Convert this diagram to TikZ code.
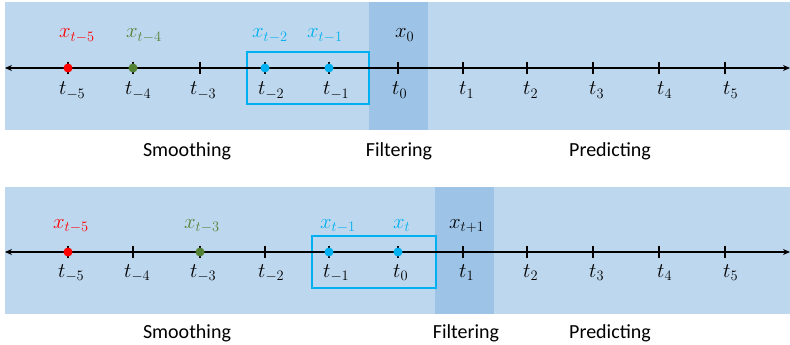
\documentclass[tikz,border=0pt]{standalone}
\usepackage{fontspec}
\setmainfont{Carlito}
\usetikzlibrary{arrows.meta}
\definecolor{panel}{HTML}{BDD7EE}
\definecolor{strip}{HTML}{9DC3E6}
\definecolor{xred}{HTML}{FF0000}
\definecolor{xgreen}{HTML}{548235}
\definecolor{xcyan}{HTML}{00B0F0}
\begin{document}
\begin{tikzpicture}[x=1pt,y=-1pt,
  axisln/.style={line width=1.6pt,{Stealth[length=7pt,width=6pt]}-{Stealth[length=7pt,width=6pt]}},
  tickln/.style={line width=1.4pt},
  dotn/.style={circle,inner sep=0pt,minimum size=9pt},
  lab/.style={anchor=base west,inner sep=0pt,font=\fontsize{21}{25}\selectfont},
  word/.style={anchor=base,inner sep=0pt,font=\fontsize{20}{24}\selectfont},
  winbox/.style={draw=xcyan,line width=1.1pt}]
\useasboundingbox (0,0) rectangle (790,345);
% ---------- top panel ----------
\fill[panel] (5,2) rectangle (790,130);
\fill[strip] (369,2) rectangle (428,130);
\draw[winbox] (247,52) rectangle (369,104);
\coordinate (aL) at (5,68);
\coordinate (aR) at (790,68);
\draw[axisln] (aL) -- (aR);
\foreach \x [count=\i] in {68,133,200,265,329,398,463,527,593,659,725}{
  \coordinate (ta\i) at (\x,68);
  \draw[tickln] (\x,62) -- (\x,74);
}
\node[dotn,fill=xred] (da1) at (ta1) {};
\node[dotn,fill=xgreen] (da2) at (ta2) {};
\node[dotn,fill=xcyan] (da4) at (ta4) {};
\node[dotn,fill=xcyan] (da5) at (ta5) {};
\node[lab,text=xred] (xa1) at (59,38) {$x_{t-5}$};
\node[lab,text=xgreen] (xa2) at (126,38) {$x_{t-4}$};
\node[lab,text=xcyan] (xa4) at (252,38) {$x_{t-2}$};
\node[lab,text=xcyan] (xa5) at (307,38) {$x_{t-1}$};
\node[lab] (xa6) at (395,38) {$x_{0}$};
\node[lab] (la1) at (59,95) {$t_{-5}$};
\node[lab] (la2) at (125,95) {$t_{-4}$};
\node[lab] (la3) at (190,95) {$t_{-3}$};
\node[lab] (la4) at (258,95) {$t_{-2}$};
\node[lab] (la5) at (323,95) {$t_{-1}$};
\node[lab] (la6) at (392,95) {$t_{0}$};
\node[lab] (la7) at (459,95) {$t_{1}$};
\node[lab] (la8) at (523,95) {$t_{2}$};
\node[lab] (la9) at (589,95) {$t_{3}$};
\node[lab] (la10) at (657,95) {$t_{4}$};
\node[lab] (la11) at (723,95) {$t_{5}$};
\node[word] (sa) at (187,156) {Smoothing};
\node[word] (fa) at (399,156) {Filtering};
\node[word] (pa) at (610,156) {Predicting};
% ---------- bottom panel ----------
\fill[panel] (5,187) rectangle (790,314);
\fill[strip] (435,187) rectangle (494,314);
\draw[winbox] (312,236) rectangle (436,288);
\coordinate (bL) at (5,252);
\coordinate (bR) at (790,252);
\draw[axisln] (bL) -- (bR);
\foreach \x [count=\i] in {68,133,200,265,329,398,463,527,593,659,725}{
  \coordinate (tb\i) at (\x,252);
  \draw[tickln] (\x,246) -- (\x,258);
}
\node[dotn,fill=xred] (db1) at (tb1) {};
\node[dotn,fill=xgreen] (db3) at (tb3) {};
\node[dotn,fill=xcyan] (db5) at (tb5) {};
\node[dotn,fill=xcyan] (db6) at (tb6) {};
\node[lab,text=xred] (xb1) at (53,228) {$x_{t-5}$};
\node[lab,text=xgreen] (xb3) at (184,228) {$x_{t-3}$};
\node[lab,text=xcyan] (xb5) at (320,228) {$x_{t-1}$};
\node[lab,text=xcyan] (xb6) at (393,228) {$x_{t}$};
\node[lab] (xb7) at (449,228) {$x_{t+1}$};
\node[lab] (lb1) at (58,277) {$t_{-5}$};
\node[lab] (lb2) at (124,277) {$t_{-4}$};
\node[lab] (lb3) at (190,277) {$t_{-3}$};
\node[lab] (lb4) at (258,277) {$t_{-2}$};
\node[lab] (lb5) at (323,277) {$t_{-1}$};
\node[lab] (lb6) at (393,277) {$t_{0}$};
\node[lab] (lb7) at (459,277) {$t_{1}$};
\node[lab] (lb8) at (523,277) {$t_{2}$};
\node[lab] (lb9) at (589,277) {$t_{3}$};
\node[lab] (lb10) at (657,277) {$t_{4}$};
\node[lab] (lb11) at (723,277) {$t_{5}$};
\node[word] (sb) at (187,338) {Smoothing};
\node[word] (fb) at (466,338) {Filtering};
\node[word] (pb) at (610,338) {Predicting};
\end{tikzpicture}
\end{document}
